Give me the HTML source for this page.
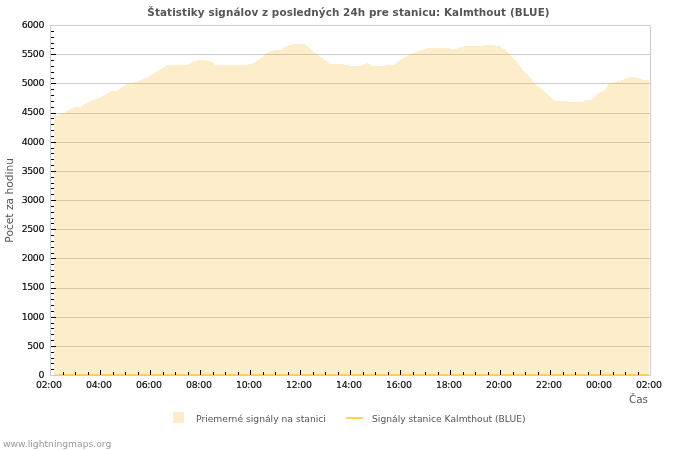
<!DOCTYPE html>
<html><head><meta charset="utf-8"><title>Štatistiky signálov</title>
<style>
html,body{margin:0;padding:0;background:#fff;}
body{width:700px;height:450px;position:relative;overflow:hidden;font-family:"DejaVu Sans","Liberation Sans",sans-serif;}
.t{position:absolute;white-space:nowrap;line-height:1;}
#txt{position:absolute;left:0;top:0;width:700px;height:450px;will-change:transform;}
.yl,.xl{-webkit-text-stroke:0.13px #000;}
.yl{font-size:9.4px;letter-spacing:-0.4px;color:#000;text-align:right;width:44px;left:0;}
.xl{font-size:9.4px;letter-spacing:-0.3px;color:#000;text-align:center;width:60px;}
.title{font-weight:bold;font-size:10.4px;letter-spacing:0.1px;color:#555;left:0;width:700px;text-align:center;top:6.9px;}
.leg{font-size:9.2px;color:#555;}
</style></head><body>
<svg width="700" height="450" viewBox="0 0 700 450" style="position:absolute;left:0;top:0" shape-rendering="crispEdges">
<rect x="51" y="54" width="599" height="1" fill="#CCCCCC"/>
<rect x="51" y="83" width="599" height="1" fill="#CCCCCC"/>
<rect x="51" y="113" width="599" height="1" fill="#CCCCCC"/>
<rect x="51" y="142" width="599" height="1" fill="#CCCCCC"/>
<rect x="51" y="171" width="599" height="1" fill="#CCCCCC"/>
<rect x="51" y="200" width="599" height="1" fill="#CCCCCC"/>
<rect x="51" y="229" width="599" height="1" fill="#CCCCCC"/>
<rect x="51" y="258" width="599" height="1" fill="#CCCCCC"/>
<rect x="51" y="288" width="599" height="1" fill="#CCCCCC"/>
<rect x="51" y="317" width="599" height="1" fill="#CCCCCC"/>
<rect x="51" y="346" width="599" height="1" fill="#CCCCCC"/>
<path d="M54,375V115H60V114H62V113H65V112H66V111H68V110H70V109H71V108H73V107H81V106H83V105H84V104H86V103H88V102H90V101H92V100H95V99H97V98H100V97H102V96H104V95H106V94H107V93H109V92H110V91H118V90H119V89H120V88H121V87H123V86H125V85H126V84H128V83H133V82H138V81H140V80H142V79H145V78H148V77H149V76H151V75H152V74H154V73H155V72H157V71H158V70H160V69H162V68H163V67H165V66H166V65H188V64H190V63H192V62H195V61H197V60H206V61H211V62H213V63H214V64H215V65H248V64H252V63H254V62H256V61H257V60H259V59H260V58H262V57H263V56H264V55H265V54H266V53H268V52H270V51H273V50H282V49H283V48H284V47H285V46H288V45H292V44H305V45H306V46H308V47H309V48H310V49H311V50H312V51H313V52H314V53H316V54H317V55H319V56H320V57H322V58H323V59H324V60H326V61H327V62H328V63H329V64H344V65H349V66H361V65H364V64H366V63H368V64H370V65H371V66H385V65H394V64H396V63H397V62H398V61H400V60H401V59H403V58H404V57H406V56H408V55H410V54H412V53H415V52H418V51H420V50H423V49H427V48H449V49H457V48H459V47H464V46H483V45H495V46H500V47H501V48H503V49H505V50H506V51H507V52H508V53H509V54H510V56H512V58H514V60H516V62H518V64H519V65H520V67H521V68H522V70H523V71H524V72H525V73H526V74H528V76H529V77H530V78H531V79H532V81H533V82H534V83H535V84H536V85H537V86H538V87H540V88H541V89H542V90H543V91H544V92H545V93H547V94H548V95H549V96H550V97H551V98H552V99H553V100H554V101H568V102H583V101H585V100H592V99H593V98H594V97H595V96H596V95H597V94H598V93H600V92H602V91H604V90H605V89H606V88H607V86H608V84H609V83H612V82H617V81H621V80H624V79H626V78H628V77H636V78H640V79H643V80H649V375Z" fill="#FEEDCB"/>
<clipPath id="c"><path d="M54,375V115H60V114H62V113H65V112H66V111H68V110H70V109H71V108H73V107H81V106H83V105H84V104H86V103H88V102H90V101H92V100H95V99H97V98H100V97H102V96H104V95H106V94H107V93H109V92H110V91H118V90H119V89H120V88H121V87H123V86H125V85H126V84H128V83H133V82H138V81H140V80H142V79H145V78H148V77H149V76H151V75H152V74H154V73H155V72H157V71H158V70H160V69H162V68H163V67H165V66H166V65H188V64H190V63H192V62H195V61H197V60H206V61H211V62H213V63H214V64H215V65H248V64H252V63H254V62H256V61H257V60H259V59H260V58H262V57H263V56H264V55H265V54H266V53H268V52H270V51H273V50H282V49H283V48H284V47H285V46H288V45H292V44H305V45H306V46H308V47H309V48H310V49H311V50H312V51H313V52H314V53H316V54H317V55H319V56H320V57H322V58H323V59H324V60H326V61H327V62H328V63H329V64H344V65H349V66H361V65H364V64H366V63H368V64H370V65H371V66H385V65H394V64H396V63H397V62H398V61H400V60H401V59H403V58H404V57H406V56H408V55H410V54H412V53H415V52H418V51H420V50H423V49H427V48H449V49H457V48H459V47H464V46H483V45H495V46H500V47H501V48H503V49H505V50H506V51H507V52H508V53H509V54H510V56H512V58H514V60H516V62H518V64H519V65H520V67H521V68H522V70H523V71H524V72H525V73H526V74H528V76H529V77H530V78H531V79H532V81H533V82H534V83H535V84H536V85H537V86H538V87H540V88H541V89H542V90H543V91H544V92H545V93H547V94H548V95H549V96H550V97H551V98H552V99H553V100H554V101H568V102H583V101H585V100H592V99H593V98H594V97H595V96H596V95H597V94H598V93H600V92H602V91H604V90H605V89H606V88H607V86H608V84H609V83H612V82H617V81H621V80H624V79H626V78H628V77H636V78H640V79H643V80H649V375Z"/></clipPath>
<g clip-path="url(#c)"><rect x="51" y="54" width="599" height="1" fill="#D7C7A7"/><rect x="51" y="83" width="599" height="1" fill="#D7C7A7"/><rect x="51" y="113" width="599" height="1" fill="#D7C7A7"/><rect x="51" y="142" width="599" height="1" fill="#D7C7A7"/><rect x="51" y="171" width="599" height="1" fill="#D7C7A7"/><rect x="51" y="200" width="599" height="1" fill="#D7C7A7"/><rect x="51" y="229" width="599" height="1" fill="#D7C7A7"/><rect x="51" y="258" width="599" height="1" fill="#D7C7A7"/><rect x="51" y="288" width="599" height="1" fill="#D7C7A7"/><rect x="51" y="317" width="599" height="1" fill="#D7C7A7"/><rect x="51" y="346" width="599" height="1" fill="#D7C7A7"/></g>
<rect x="50" y="25" width="601" height="1" fill="#CCCCCC"/>
<rect x="50" y="375" width="601" height="1" fill="#CCCCCC"/>
<rect x="50" y="25" width="1" height="351" fill="#CCCCCC"/>
<rect x="650" y="25" width="1" height="351" fill="#CCCCCC"/>
<rect x="54" y="374" width="6" height="1" fill="#FEDF9A"/><rect x="60" y="374" width="589" height="1" fill="#FFD452"/>
<rect x="51" y="369" width="3" height="1" fill="#000"/>
<rect x="51" y="363" width="3" height="1" fill="#000"/>
<rect x="51" y="358" width="3" height="1" fill="#000"/>
<rect x="51" y="352" width="3" height="1" fill="#000"/>
<rect x="51" y="346" width="5" height="1" fill="#000"/>
<rect x="51" y="340" width="3" height="1" fill="#000"/>
<rect x="51" y="334" width="3" height="1" fill="#000"/>
<rect x="51" y="328" width="3" height="1" fill="#000"/>
<rect x="51" y="323" width="3" height="1" fill="#000"/>
<rect x="51" y="317" width="5" height="1" fill="#000"/>
<rect x="51" y="311" width="3" height="1" fill="#000"/>
<rect x="51" y="305" width="3" height="1" fill="#000"/>
<rect x="51" y="299" width="3" height="1" fill="#000"/>
<rect x="51" y="293" width="3" height="1" fill="#000"/>
<rect x="51" y="288" width="5" height="1" fill="#000"/>
<rect x="51" y="282" width="3" height="1" fill="#000"/>
<rect x="51" y="276" width="3" height="1" fill="#000"/>
<rect x="51" y="270" width="3" height="1" fill="#000"/>
<rect x="51" y="264" width="3" height="1" fill="#000"/>
<rect x="51" y="258" width="5" height="1" fill="#000"/>
<rect x="51" y="253" width="3" height="1" fill="#000"/>
<rect x="51" y="247" width="3" height="1" fill="#000"/>
<rect x="51" y="241" width="3" height="1" fill="#000"/>
<rect x="51" y="235" width="3" height="1" fill="#000"/>
<rect x="51" y="229" width="5" height="1" fill="#000"/>
<rect x="51" y="223" width="3" height="1" fill="#000"/>
<rect x="51" y="218" width="3" height="1" fill="#000"/>
<rect x="51" y="212" width="3" height="1" fill="#000"/>
<rect x="51" y="206" width="3" height="1" fill="#000"/>
<rect x="51" y="200" width="5" height="1" fill="#000"/>
<rect x="51" y="194" width="3" height="1" fill="#000"/>
<rect x="51" y="188" width="3" height="1" fill="#000"/>
<rect x="51" y="183" width="3" height="1" fill="#000"/>
<rect x="51" y="177" width="3" height="1" fill="#000"/>
<rect x="51" y="171" width="5" height="1" fill="#000"/>
<rect x="51" y="165" width="3" height="1" fill="#000"/>
<rect x="51" y="159" width="3" height="1" fill="#000"/>
<rect x="51" y="153" width="3" height="1" fill="#000"/>
<rect x="51" y="148" width="3" height="1" fill="#000"/>
<rect x="51" y="142" width="5" height="1" fill="#000"/>
<rect x="51" y="136" width="3" height="1" fill="#000"/>
<rect x="51" y="130" width="3" height="1" fill="#000"/>
<rect x="51" y="124" width="3" height="1" fill="#000"/>
<rect x="51" y="118" width="3" height="1" fill="#000"/>
<rect x="51" y="113" width="5" height="1" fill="#000"/>
<rect x="51" y="107" width="3" height="1" fill="#000"/>
<rect x="51" y="101" width="3" height="1" fill="#000"/>
<rect x="51" y="95" width="3" height="1" fill="#000"/>
<rect x="51" y="89" width="3" height="1" fill="#000"/>
<rect x="51" y="83" width="5" height="1" fill="#000"/>
<rect x="51" y="78" width="3" height="1" fill="#000"/>
<rect x="51" y="72" width="3" height="1" fill="#000"/>
<rect x="51" y="66" width="3" height="1" fill="#000"/>
<rect x="51" y="60" width="3" height="1" fill="#000"/>
<rect x="51" y="54" width="5" height="1" fill="#000"/>
<rect x="51" y="48" width="3" height="1" fill="#000"/>
<rect x="51" y="43" width="3" height="1" fill="#000"/>
<rect x="51" y="37" width="3" height="1" fill="#000"/>
<rect x="51" y="31" width="3" height="1" fill="#000"/>
<rect x="63" y="372" width="1" height="3" fill="#000"/>
<rect x="75" y="372" width="1" height="3" fill="#000"/>
<rect x="88" y="372" width="1" height="3" fill="#000"/>
<rect x="100" y="370" width="1" height="5" fill="#000"/>
<rect x="113" y="372" width="1" height="3" fill="#000"/>
<rect x="125" y="372" width="1" height="3" fill="#000"/>
<rect x="138" y="372" width="1" height="3" fill="#000"/>
<rect x="150" y="370" width="1" height="5" fill="#000"/>
<rect x="163" y="372" width="1" height="3" fill="#000"/>
<rect x="175" y="372" width="1" height="3" fill="#000"/>
<rect x="188" y="372" width="1" height="3" fill="#000"/>
<rect x="200" y="370" width="1" height="5" fill="#000"/>
<rect x="213" y="372" width="1" height="3" fill="#000"/>
<rect x="225" y="372" width="1" height="3" fill="#000"/>
<rect x="238" y="372" width="1" height="3" fill="#000"/>
<rect x="250" y="370" width="1" height="5" fill="#000"/>
<rect x="263" y="372" width="1" height="3" fill="#000"/>
<rect x="275" y="372" width="1" height="3" fill="#000"/>
<rect x="288" y="372" width="1" height="3" fill="#000"/>
<rect x="300" y="370" width="1" height="5" fill="#000"/>
<rect x="313" y="372" width="1" height="3" fill="#000"/>
<rect x="325" y="372" width="1" height="3" fill="#000"/>
<rect x="338" y="372" width="1" height="3" fill="#000"/>
<rect x="350" y="370" width="1" height="5" fill="#000"/>
<rect x="363" y="372" width="1" height="3" fill="#000"/>
<rect x="375" y="372" width="1" height="3" fill="#000"/>
<rect x="388" y="372" width="1" height="3" fill="#000"/>
<rect x="400" y="370" width="1" height="5" fill="#000"/>
<rect x="413" y="372" width="1" height="3" fill="#000"/>
<rect x="425" y="372" width="1" height="3" fill="#000"/>
<rect x="438" y="372" width="1" height="3" fill="#000"/>
<rect x="450" y="370" width="1" height="5" fill="#000"/>
<rect x="463" y="372" width="1" height="3" fill="#000"/>
<rect x="475" y="372" width="1" height="3" fill="#000"/>
<rect x="488" y="372" width="1" height="3" fill="#000"/>
<rect x="500" y="370" width="1" height="5" fill="#000"/>
<rect x="513" y="372" width="1" height="3" fill="#000"/>
<rect x="525" y="372" width="1" height="3" fill="#000"/>
<rect x="538" y="372" width="1" height="3" fill="#000"/>
<rect x="550" y="370" width="1" height="5" fill="#000"/>
<rect x="563" y="372" width="1" height="3" fill="#000"/>
<rect x="575" y="372" width="1" height="3" fill="#000"/>
<rect x="588" y="372" width="1" height="3" fill="#000"/>
<rect x="600" y="370" width="1" height="5" fill="#000"/>
<rect x="613" y="372" width="1" height="3" fill="#000"/>
<rect x="625" y="372" width="1" height="3" fill="#000"/>
<rect x="638" y="372" width="1" height="3" fill="#000"/>
<rect x="173" y="412" width="11" height="11" fill="#FEEDCB"/>
<rect x="346" y="417" width="17" height="2" fill="#FFD452"/>
</svg>
<div id="txt">
<div class="t title" style="left:-1.5px">Štatistiky signálov z posledných 24h pre stanicu: Kalmthout (BLUE)</div>
<div class="t yl" style="top:19.8px">6000</div>
<div class="t yl" style="top:49.0px">5500</div>
<div class="t yl" style="top:78.1px">5000</div>
<div class="t yl" style="top:107.3px">4500</div>
<div class="t yl" style="top:136.5px">4000</div>
<div class="t yl" style="top:165.6px">3500</div>
<div class="t yl" style="top:194.8px">3000</div>
<div class="t yl" style="top:224.0px">2500</div>
<div class="t yl" style="top:253.1px">2000</div>
<div class="t yl" style="top:282.3px">1500</div>
<div class="t yl" style="top:311.5px">1000</div>
<div class="t yl" style="top:340.6px">500</div>
<div class="t yl" style="top:369.8px">0</div>
<div class="t xl" style="left:18.8px;top:379.5px">02:00</div>
<div class="t xl" style="left:68.8px;top:379.5px">04:00</div>
<div class="t xl" style="left:118.8px;top:379.5px">06:00</div>
<div class="t xl" style="left:168.8px;top:379.5px">08:00</div>
<div class="t xl" style="left:218.8px;top:379.5px">10:00</div>
<div class="t xl" style="left:268.8px;top:379.5px">12:00</div>
<div class="t xl" style="left:318.8px;top:379.5px">14:00</div>
<div class="t xl" style="left:368.8px;top:379.5px">16:00</div>
<div class="t xl" style="left:418.8px;top:379.5px">18:00</div>
<div class="t xl" style="left:468.8px;top:379.5px">20:00</div>
<div class="t xl" style="left:518.8px;top:379.5px">22:00</div>
<div class="t xl" style="left:568.8px;top:379.5px">00:00</div>
<div class="t xl" style="left:618.8px;top:379.5px">02:00</div>
<div class="t" style="font-size:10.67px;color:#555;left:-90.2px;top:195px;width:200px;text-align:center;transform:rotate(-90deg);transform-origin:50% 50%">Počet za hodinu</div>
<div class="t" style="font-size:10.4px;color:#555;left:548px;width:100px;text-align:right;top:393.6px">Čas</div>
<div class="t leg" style="left:196px;top:413.5px">Priemerné signály na stanici</div>
<div class="t leg" style="left:372px;top:413.5px">Signály stanice Kalmthout (BLUE)</div>
<div class="t" style="font-size:9.2px;color:#999;left:3.1px;top:439px">www.lightningmaps.org</div>
</div>
</body></html>
